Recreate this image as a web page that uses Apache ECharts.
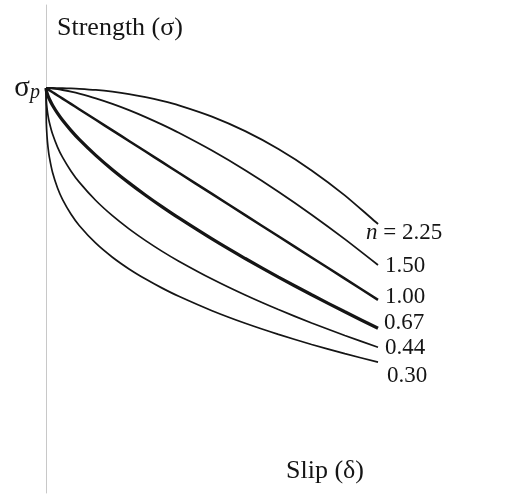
<!DOCTYPE html>
<html><head><meta charset="utf-8">
<script src="https://cdn.jsdelivr.net/npm/echarts@6/dist/echarts.min.js"></script>
<style>html,body{margin:0;padding:0;background:#fff}#c{width:511px;height:494px}</style>
</head><body><div id="c"></div>
<script>
// Slip δ (normalised, 1 = end of plotted range)
const slip = [0, 0.001, 0.003, 0.006, 0.01, 0.02, 0.035, 0.05, 0.075, 0.1, 0.15, 0.2, 0.25, 0.3, 0.35, 0.4, 0.5, 0.6, 0.7, 0.8, 0.9, 1.0];
// Strength σ (σp = 100)
const s225 = [100, 100, 100, 100, 100, 100, 99.98, 99.96, 99.90, 99.81, 99.53, 99.10, 98.52, 97.76, 96.83, 95.73, 92.94, 89.35, 84.94, 79.66, 73.50, 66.40];
const s150 = [100, 100, 99.99, 99.98, 99.96, 99.88, 99.71, 99.51, 99.10, 98.62, 97.46, 96.09, 94.54, 92.82, 90.95, 88.94, 84.55, 79.69, 74.40, 68.73, 62.69, 56.30];
const s100 = [100, 99.95, 99.84, 99.69, 99.48, 98.95, 98.17, 97.39, 96.08, 94.77, 92.16, 89.54, 86.93, 84.31, 81.70, 79.08, 73.85, 68.62, 63.39, 58.16, 52.93, 47.70];
const s067 = [100, 99.42, 98.79, 98.08, 97.29, 95.69, 93.73, 92.03, 89.55, 87.32, 83.37, 79.83, 76.58, 73.53, 70.65, 67.91, 62.73, 57.89, 53.31, 48.94, 44.74, 40.70];
const s044 = [100, 96.94, 95.03, 93.26, 91.56, 88.56, 85.36, 82.87, 79.53, 76.76, 72.22, 68.47, 65.22, 62.32, 59.67, 57.24, 52.83, 48.88, 45.29, 41.98, 38.90, 36.00];
const s030 = [100, 91.48, 88.15, 85.41, 82.99, 79.06, 75.24, 72.44, 68.88, 66.07, 61.68, 58.22, 55.33, 52.83, 50.59, 48.57, 45.01, 41.91, 39.17, 36.68, 34.41, 32.30];
const nLabels = ['2.25', '1.50', '1.00', '0.67', '0.44', '0.30'];
const peakValue = 100;

const FONT = '"Liberation Serif","DejaVu Serif",serif';
const INK = '#151515';
function pts(arr){ return slip.map((d,i)=>[d, arr[i]]); }

const seriesDefs = [
  {data: s225, w: 1.8, label: '{i|n} = ' + nLabels[0], off: [-12, 9]},
  {data: s150, w: 1.8, label: nLabels[1], off: [7, 1]},
  {data: s100, w: 2.5, label: nLabels[2], off: [7, -3]},
  {data: s067, w: 3.3, label: nLabels[3], off: [6, -5]},
  {data: s044, w: 1.7, label: nLabels[4], off: [7, 1]},
  {data: s030, w: 1.7, label: nLabels[5], off: [9, 14]}
];

const chart = echarts.init(document.getElementById('c'), null, {renderer: 'canvas'});
chart.setOption({
  animation: false,
  backgroundColor: '#fff',
  grid: {left: 46, right: 133, top: 5, bottom: 1, containLabel: false},
  title: [
    {text: 'Strength (σ)', left: 57, top: 15, padding: 0, textStyle: {fontFamily: FONT, fontSize: 26, fontWeight: 'normal', color: INK}},
    {text: 'Slip (δ)', left: 286, top: 458, padding: 0, textStyle: {fontFamily: FONT, fontSize: 26, fontWeight: 'normal', color: INK}}
  ],
  xAxis: {type: 'value', min: 0, max: 1, show: false},
  yAxis: {
    type: 'value', min: 0, max: 120.5, interval: 100,
    axisLine: {show: true, lineStyle: {color: '#c8c8c8', width: 1}},
    axisTick: {show: false}, splitLine: {show: false},
    axisLabel: {
      show: true, margin: 6,
      formatter: v => v === peakValue ? '{s|σ}{p|p}' : '',
      rich: {
        s: {fontFamily: FONT, fontSize: 29, color: INK},
        p: {fontFamily: FONT, fontSize: 20, fontStyle: 'italic', color: INK, padding: [9, 0, 0, 0]}
      }
    }
  },
  series: seriesDefs.map(s => ({
    type: 'line', data: pts(s.data), showSymbol: false, smooth: 0.2,
    lineStyle: {color: INK, width: s.w},
    endLabel: {
      show: true, formatter: () => s.label, distance: 0, offset: s.off,
      fontFamily: FONT, fontSize: 23, color: INK, align: 'left', verticalAlign: 'middle',
      rich: {i: {fontFamily: FONT, fontSize: 23, fontStyle: 'italic', color: INK}}
    }
  }))
});
</script></body></html>
